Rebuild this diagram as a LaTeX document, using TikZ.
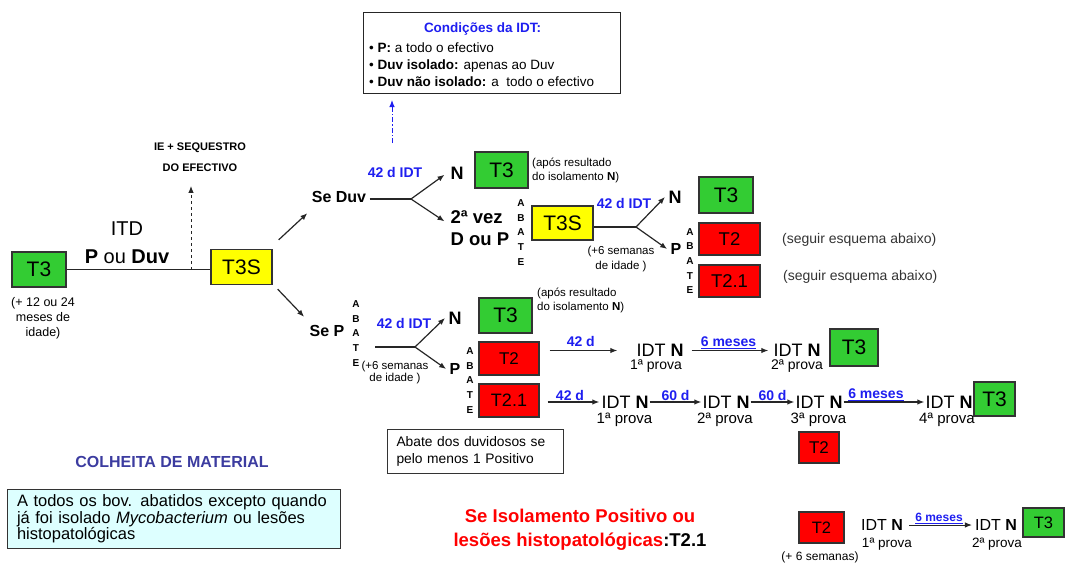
\documentclass[tikz,border=0pt]{standalone}
\usepackage{fontspec}
\setmainfont{Liberation Sans}
\usetikzlibrary{arrows.meta, positioning, calc}
\definecolor{boxgreen}{RGB}{51,204,51}
\definecolor{boxred}{RGB}{255,0,0}
\definecolor{boxyellow}{RGB}{255,255,0}
\definecolor{lblblue}{RGB}{30,30,240}
\definecolor{darkblue}{RGB}{60,60,160}
\definecolor{lightcyan}{RGB}{221,255,255}
\newcommand{\fsz}[1]{\fontsize{#1}{#1}\selectfont}
\lineskiplimit=-50pt

\begin{document}
\begin{tikzpicture}[x=1pt, y=-1pt,
    tbox/.style={draw=black!80, line width=1.3pt, inner sep=0pt, font=\fsz{21}},
    grn/.style={tbox, fill=boxgreen},
    rd/.style={tbox, fill=boxred},
    ylw/.style={tbox, fill=boxyellow},
    sz/.style 2 args={minimum width=#1, minimum height=#2},
    arr/.style={-{Latex[length=7pt,width=5.5pt]}, line width=1.2pt, black!85},
    ln/.style={line width=1.2pt, black!85},
    lbl/.style={font=\bfseries\fsz{14}, text=lblblue},
    abate/.style={font=\bfseries\fontsize{10}{14.6}\selectfont, align=center, inner sep=0pt},
    big/.style={font=\bfseries\fsz{18}},
    idt/.style={font=\fsz{18}, inner sep=1pt},
    prova/.style={font=\fsz{15}, inner sep=0pt},
    note/.style={font=\fontsize{11.5}{14}\selectfont, align=left, inner sep=1pt}]
    \useasboundingbox (0,0) rectangle (1065,573);

    % Start
    \node[grn, sz={54}{35}] (t3a) at (39,269.5) {T3};
    \node[font=\fontsize{12.5}{15}\selectfont, align=center] (age) at (43,318) {(+ 12 ou 24\\meses de\\idade)};
    \node[font=\fsz{20}] (itd) at (127,229) {ITD};
    \node[font=\fsz{20}] (pduv) at (127,257) {\textbf{P} ou \textbf{Duv}};
    \node[ylw, sz={61}{35}] (t3s) at (241.5,267) {T3S};
    \draw[ln] (t3a.east) -- (t3a.east -| t3s.west);

    \coordinate (seqfoot) at (191,269.5);
    \node[font=\bfseries\fontsize{11}{21}\selectfont, align=center] (seq) at (200,157) {IE + SEQUESTRO\\DO EFECTIVO};
    \draw[arr, dashed, line width=1pt, shorten >=11pt] (seqfoot) -- (seqfoot |- seq.south);

    % Se Duv branch
    \node[font=\bfseries\fsz{16}] (seduv) at (339,197) {Se Duv};
    \node[font=\bfseries\fsz{16}] (sep) at (327,331) {Se P};
    \draw[arr] ([shift={(6,-9)}]t3s.north east) -- ([shift={(-1,7)}]seduv.south west);
    \draw[arr] ([shift={(5,4)}]t3s.south east) -- ([shift={(-2,-5)}]sep.north west);

    \coordinate (fork1) at (411,199);
    \draw[ln] ([yshift=-2pt]seduv.east) -- (fork1);
    \node[lbl] (lblA) at (395,172) {42 d IDT};
    \node[big] (na) at (457,173) {N};
    \draw[arr, shorten >=3pt] (fork1) -- (na.west);
    \node[font=\bfseries\fontsize{18.5}{22}\selectfont, align=left, anchor=west] (vez) at (447,228) {2ª vez\\D ou P};
    \draw[arr, shorten >=3pt] (fork1) -- ([yshift=5pt]vez.west);
    \node[grn, sz={53}{36}] (t3b) at (501.5,170) {T3};
    \node[note, anchor=west, font=\fontsize{11.5}{13.5}\selectfont] (apos1) at (531,170.5) {(após resultado\\do isolamento \textbf{N})};

    \node[abate] (ab1) at (521,232.5) {A\\B\\A\\T\\E};
    \node[ylw, sz={61}{34}] (t3s2) at (562.5,223) {T3S};
    \coordinate (fork2) at (636,227);
    \draw[ln] (t3s2.east |- fork2) -- (fork2);
    \node[lbl] (lblB) at (624,203) {42 d IDT};
    \node[note, align=center, font=\fontsize{11.5}{15}\selectfont] (sem1) at (621,259.5) {(+6 semanas\\de idade )};
    \node[big] (nb) at (675,197) {N};
    \draw[arr] (fork2) -- (nb.west);
    \node[font=\bfseries\fsz{16}] (pb) at (676,249) {P};
    \draw[arr] (fork2) -- (pb.west);
    \node[abate] (ab2) at (690,261) {A\\B\\A\\T\\E};
    \node[grn, sz={54}{36}] (t3c) at (726,195) {T3};
    \node[rd, sz={61}{32}, font=\fsz{18.5}] (t2a) at (729.5,239) {T2};
    \node[rd, sz={61}{32}, font=\fsz{18.5}] (t21a) at (729.5,281) {T2.1};
    \node[anchor=west, font=\fsz{14}, text=black!80, inner sep=0pt] (seg1) at (782,240) {(seguir esquema abaixo)};
    \node[anchor=west, font=\fsz{14}, text=black!80, inner sep=0pt] (seg2) at (783,277) {(seguir esquema abaixo)};

    % Se P branch
    \node[abate] (ab3) at (356,333.5) {A\\B\\A\\T\\E};
    \coordinate (lowstart) at (375,347);
    \coordinate (fork3) at (415,347);
    \draw[ln] (lowstart) -- (fork3);
    \node[lbl] (lblC) at (404,323) {42 d IDT};
    \node[note, align=center, font=\fontsize{11.5}{12.5}\selectfont] (sem2) at (395,372.5) {(+6 semanas\\de idade )};
    \node[big] (nc) at (455,318) {N};
    \draw[arr] (fork3) -- (nc.west);
    \node[font=\bfseries\fsz{16}] (pc) at (455,369) {P};
    \draw[arr] (fork3) -- (pc.west);
    \node[abate] (ab4) at (470,380.5) {A\\B\\A\\T\\E};
    \node[grn, sz={53}{35}] (t3d) at (505.5,315.5) {T3};
    \node[note, anchor=west] (apos2) at (536,300) {(após resultado\\do isolamento \textbf{N})};
    \node[rd, sz={60}{33}, font=\fsz{17}] (t2b) at (509,358.5) {T2};
    \node[rd, sz={60}{33}, font=\fsz{18}] (t21b) at (509,400.5) {T2.1};

    % T2: two tests
    \node[idt] (i1) at (660,350.5) {IDT \textbf{N}};
    \node[prova, font=\fsz{14}] (p1) at (656,366.5) {1ª prova};
    \draw[arr, shorten <=10pt, shorten >=18pt] (t2b.east |- i1.west) -- node[lbl, pos=0.43, above] (d42b) {42 d} (i1.west);
    \node[idt] (i2) at (797,350.5) {IDT \textbf{N}};
    \node[prova, font=\fsz{14}] (p2) at (797,366.5) {2ª prova};
    \draw[arr, shorten <=7pt, shorten >=4pt] (i1.east) -- node[lbl, above, inner sep=1pt] (m6a) {\underline{6 meses}} (i2.west);
    \node[grn, sz={48}{37}] (t3e) at (854,347.5) {T3};

    % T2.1: four tests
    \node[idt] (i3) at (625,402) {IDT \textbf{N}};
    \node[prova] (p3) at (624.5,420) {1ª prova};
    \draw[arr, shorten <=8pt, shorten >=1pt] (t21b.east |- i3.west) -- node[lbl, above, inner sep=1pt] (d42c) {42 d} (i3.west);
    \node[idt] (i4) at (726,402) {IDT \textbf{N}};
    \node[prova] (p4) at (725,420) {2ª prova};
    \draw[arr] (i3.east) -- node[lbl, above, inner sep=1pt] (d60a) {60 d} (i4.west);
    \node[idt] (i5) at (819,402) {IDT \textbf{N}};
    \node[prova] (p5) at (818.5,420) {3ª prova};
    \draw[arr] (i4.east) -- node[lbl, above, inner sep=1pt] (d60b) {60 d} (i5.west);
    \node[idt] (i6) at (949,402) {IDT \textbf{N}};
    \node[prova] (p6) at (947,420) {4ª prova};
    \draw[arr] (i5.east) -- node[lbl, above, inner sep=1pt, pos=0.4] (m6b) {\underline{6 meses}} (i6.west);
    \node[grn, sz={41}{34}] (t3f) at (994.5,399) {T3};
    \node[rd, sz={40}{31}, font=\fsz{17}] (t2c) at (819,447.5) {T2};

    \node[draw=black!80, line width=1pt, anchor=north west, text width=158, inner xsep=9, minimum height=44, align=left, font=\fontsize{13.8}{17}\selectfont] (duv) at (387,429) {Abate dos duvidosos se\\pelo menos 1 Positivo};

    % Conditions
    \node[draw=black!85, line width=1pt, anchor=north west, sz={257}{81}] (cond) at (363,12) {};
    \node[font=\bfseries\fsz{13.5}, text=lblblue] (condt) at (482.5,29) {Condições da IDT:};
    \node[anchor=west, align=left, font=\fontsize{13.5}{17}\selectfont, inner sep=0pt] (condl) at (369,65) {\textbullet\ \textbf{P:} a todo o efectivo\\\textbullet\ \textbf{Duv isolado:} apenas ao Duv\\\textbullet\ \textbf{Duv não isolado:} a\ \ todo o efectivo};
    \coordinate (condfoot) at (392,143);
    \draw[arr, lblblue, dash pattern=on 5pt off 2pt on 1.5pt off 2pt, line width=1pt, shorten >=6pt] (condfoot) -- (condfoot |- cond.south);

    % Bottom
    \node[font=\bfseries\fsz{16}, text=darkblue] (colh) at (172,462) {COLHEITA DE MATERIAL};
    \node[draw=black!80, line width=1pt, fill=lightcyan, anchor=north west, text width=314, inner xsep=9.5, minimum height=59, align=left, font=\fontsize{16.5}{15.5}\selectfont] (colbox) at (7,489) {A todos os bov. abatidos excepto quando\\já foi isolado \textit{Mycobacterium} ou lesões\\histopatológicas};
    \node[font=\bfseries\fontsize{18.5}{24}\selectfont, text=red, align=center] (iso) at (580,530) {Se Isolamento Positivo ou\\lesões histopatológicas\textcolor{black}{:T2.1}};

    \node[rd, sz={45}{31}, font=\fsz{16.5}] (t2d) at (821.5,527.5) {T2};
    \node[font=\fsz{12}, inner sep=0pt] (sem3) at (820,557) {(+ 6 semanas)};
    \node[idt, font=\fsz{16}] (i7) at (882,525) {IDT \textbf{N}};
    \node[prova, font=\fsz{13.5}] (p7) at (887,544) {1ª prova};
    \node[idt, font=\fsz{16}] (i8) at (996,525) {IDT \textbf{N}};
    \node[prova, font=\fsz{13.5}] (p8) at (997,544) {2ª prova};
    \draw[arr, line width=1pt, shorten <=5pt, shorten >=2pt] (i7.east) -- node[lbl, font=\bfseries\fsz{12}, above, inner sep=1pt] (m6c) {\underline{6 meses}} (i8.west);
    \node[grn, sz={41}{29}, font=\fsz{16.5}] (t3g) at (1043.5,522.5) {T3};
\end{tikzpicture}
\end{document}
